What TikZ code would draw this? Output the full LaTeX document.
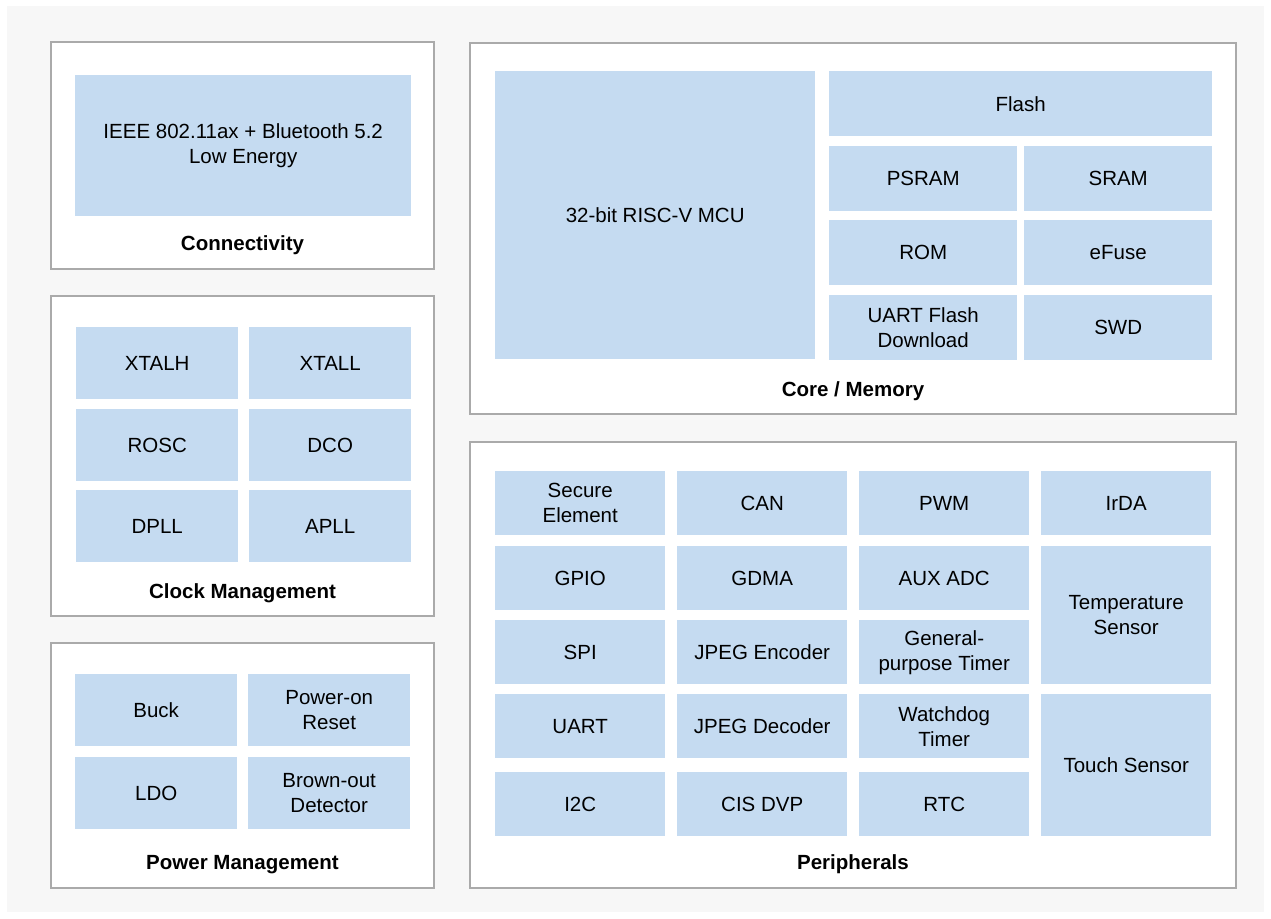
\documentclass[tikz,border=0pt]{standalone}
\usepackage{fontspec}
\setmainfont{Liberation Sans}
\definecolor{cellblue}{HTML}{C5DBF1}
\definecolor{panelline}{HTML}{AAAAAA}
\definecolor{pagegray}{HTML}{F7F7F7}
\newcommand\blk[6]{\node[cellbox, minimum width=#4pt, minimum height=#5pt, anchor=north west] (#1) at (#2,#3) {#6};}
\newcommand\panel[5]{\draw[panelbox] (#2,#3) rectangle (#4,#5); \coordinate (#1) at ({(#2+#4)/2},#5);}
\begin{document}
\begin{tikzpicture}[x=1pt,y=-1pt,
  cellbox/.style={fill=cellblue, draw=none, inner sep=0pt, align=center,
    font=\fontsize{20.5}{25}\selectfont},
  panelbox/.style={draw=panelline, line width=2pt, fill=white},
  paneltitle/.style={font=\fontsize{20.5}{25}\selectfont\bfseries, inner sep=0pt}]
\useasboundingbox (0,0) rectangle (1271,918);
\fill[pagegray] (7,6) rectangle (1264,912);

% group frames
\panel{conn}{51}{42}{434}{269}
\panel{clk}{51}{296}{434}{616}
\panel{pwr}{51}{643}{434}{888}
\panel{core}{470}{43}{1236}{414}
\panel{peri}{470}{442}{1236}{888}

\node[paneltitle] (connT) at (242.5,245) {Connectivity};
\node[paneltitle] (clkT) at (242.5,593) {Clock Management};
\node[paneltitle] (pwrT) at (242.5,865) {Power Management};
\node[paneltitle] (coreT) at (853,391) {Core / Memory};
\node[paneltitle] (periT) at (853,864) {Peripherals};

% connectivity
\blk{wifi}{75}{75}{336}{141}{\raisebox{-2pt}{\begin{tabular}{@{}c@{}}IEEE 802.11ax + Bluetooth 5.2\\Low Energy\end{tabular}}}

% clock management
\blk{xtalh}{76}{327}{162}{72}{XTALH}
\blk{xtall}{249}{327}{162}{72}{XTALL}
\blk{rosc}{76}{409}{162}{72}{ROSC}
\blk{dco}{249}{409}{162}{72}{DCO}
\blk{dpll}{76}{490}{162}{72}{DPLL}
\blk{apll}{249}{490}{162}{72}{APLL}

% power management
\blk{buck}{75}{674}{162}{72}{Buck}
\blk{por}{248}{674}{162}{72}{Power-on\\Reset}
\blk{ldo}{75}{757}{162}{72}{LDO}
\blk{bod}{248}{757}{162}{72}{Brown-out\\Detector}

% core / memory
\blk{mcu}{495}{71}{320}{288}{32-bit RISC-V MCU}
\blk{flash}{829}{71}{383}{65}{Flash}
\blk{psram}{829}{146}{188}{65}{PSRAM}
\blk{sram}{1024}{146}{188}{65}{SRAM}
\blk{rom}{829}{220}{188}{65}{ROM}
\blk{efuse}{1024}{220}{188}{65}{eFuse}
\blk{uartdl}{829}{295}{188}{65}{UART Flash\\Download}
\blk{swd}{1024}{295}{188}{65}{SWD}

% peripherals
\blk{se}{495}{471}{170}{64}{Secure\\Element}
\blk{can}{677}{471}{170}{64}{CAN}
\blk{pwm}{859}{471}{170}{64}{PWM}
\blk{irda}{1041}{471}{170}{64}{IrDA}
\blk{gpio}{495}{546}{170}{64}{GPIO}
\blk{gdma}{677}{546}{170}{64}{GDMA}
\blk{adc}{859}{546}{170}{64}{AUX ADC}
\blk{temp}{1041}{546}{170}{138}{Temperature\\Sensor}
\blk{spi}{495}{620}{170}{64}{SPI}
\blk{jenc}{677}{620}{170}{64}{JPEG Encoder}
\blk{gpt}{859}{620}{170}{64}{General-\\purpose Timer}
\blk{uart}{495}{694}{170}{64}{UART}
\blk{jdec}{677}{694}{170}{64}{JPEG Decoder}
\blk{wdt}{859}{694}{170}{64}{Watchdog\\Timer}
\blk{touch}{1041}{694}{170}{142}{Touch Sensor}
\blk{i2c}{495}{772}{170}{64}{I2C}
\blk{cis}{677}{772}{170}{64}{CIS DVP}
\blk{rtc}{859}{772}{170}{64}{RTC}
\end{tikzpicture}
\end{document}
